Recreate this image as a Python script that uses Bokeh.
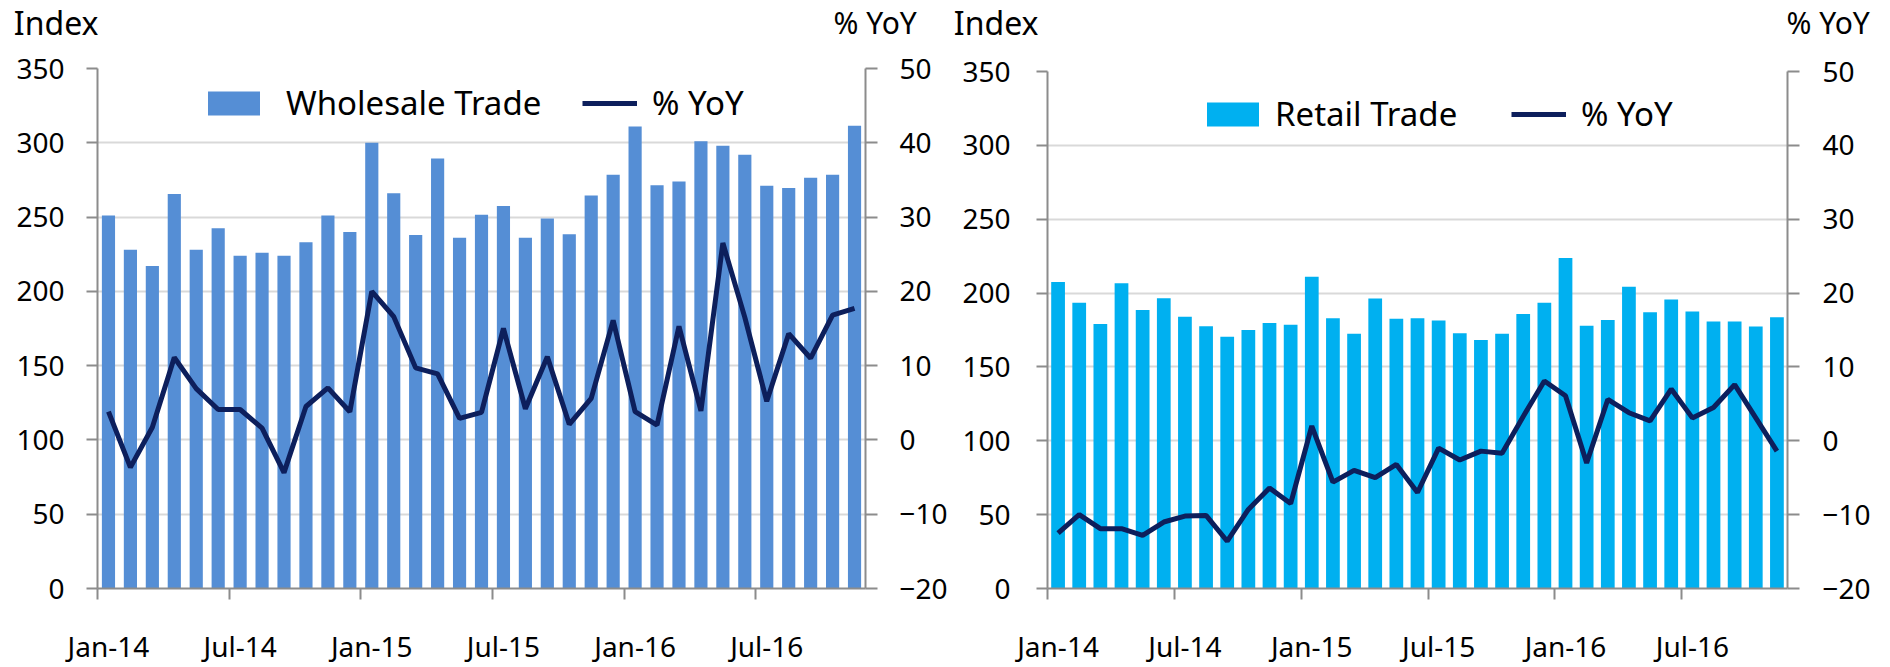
from bokeh.plotting import figure
from bokeh.models import (Range1d, LinearAxis, FixedTicker, Legend, LegendItem,
                          ColumnDataSource)
from bokeh.layouts import row, column
from bokeh.embed import file_html
from bokeh.resources import INLINE

# ---------------- data ----------------
months = ["Jan-14", "Feb-14", "Mar-14", "Apr-14", "May-14", "Jun-14", "Jul-14", "Aug-14",
          "Sep-14", "Oct-14", "Nov-14", "Dec-14", "Jan-15", "Feb-15", "Mar-15", "Apr-15",
          "May-15", "Jun-15", "Jul-15", "Aug-15", "Sep-15", "Oct-15", "Nov-15", "Dec-15",
          "Jan-16", "Feb-16", "Mar-16", "Apr-16", "May-16", "Jun-16", "Jul-16", "Aug-16",
          "Sep-16", "Oct-16", "Nov-16"]
tick_months = ["Jan-14", "Jul-14", "Jan-15", "Jul-15", "Jan-16", "Jul-16"]

wholesale_index = [251, 228, 217, 265.5, 228, 242.5, 224, 226, 224, 233, 251, 240,
                   300, 266, 238, 289.5, 236, 251.5, 257.5, 236, 249, 238.5, 264.5, 278.5,
                   311, 271.5, 274, 301, 298, 292, 271, 269.5, 276.5, 278.5, 311.5]
wholesale_yoy = [3.8, -3.7, 1.7, 11.1, 6.9, 4.1, 4.1, 1.6, -4.4, 4.5, 7.0, 3.8,
                 20.0, 16.6, 9.7, 8.9, 2.9, 3.7, 15.0, 4.2, 11.2, 2.1, 5.6, 16.1,
                 3.8, 2.0, 15.3, 3.9, 26.5, 16.5, 5.2, 14.3, 11.0, 16.8, 17.7]

retail_index = [207.5, 193.4, 179.1, 206.6, 188.6, 196.5, 184.0, 177.6, 170.5, 175.0, 179.8, 178.6,
                211.0, 183.0, 172.5, 196.3, 182.6, 183.0, 181.5, 172.8, 168.3, 172.5, 185.8, 193.4,
                223.7, 177.8, 181.8, 204.2, 187.0, 195.6, 187.5, 180.7, 180.7, 177.4, 183.7]
retail_yoy = [-12.5, -10.0, -11.9, -11.9, -12.8, -11.0, -10.2, -10.1, -13.6, -9.3, -6.4, -8.5,
              2.0, -5.6, -4.0, -5.0, -3.2, -7.0, -1.0, -2.6, -1.4, -1.7, 3.3, 8.1,
              6.1, -3.0, 5.6, 3.8, 2.7, 7.0, 3.1, 4.5, 7.6, 3.1, -1.4]

index_ticks = [0, 50, 100, 150, 200, 250, 300, 350]
yoy_ticks = [-20, -10, 0, 10, 20, 30, 40, 50]

# ---------------- style ----------------
FONT = "Noto Sans"
AXIS_COLOR = "#8c8c8c"
GRID_COLOR = "#d9d9d9"
LINE_COLOR = "#0d1f5c"
HEADER_H = 44


def style_axis(ax, tick_out, standoff, size="28px"):
    ax.major_tick_out = tick_out
    ax.major_tick_in = 0
    ax.minor_tick_out = 0
    ax.minor_tick_in = 0
    ax.major_tick_line_color = AXIS_COLOR
    ax.major_tick_line_width = 2
    ax.axis_line_color = AXIS_COLOR
    ax.axis_line_width = 2
    ax.major_label_standoff = standoff
    ax.major_label_text_font = FONT
    ax.major_label_text_font_size = size
    ax.major_label_text_color = "black"


def make_header(width, borders, index_spec, yoy_spec):
    """Strip above a chart holding the two axis titles ("Index" and "% YoY")."""
    bl, br = borders
    h = figure(width=width, height=HEADER_H, output_backend="svg", toolbar_location=None,
               x_range=Range1d(0, 1), y_range=Range1d(0, HEADER_H),
               x_axis_location=None, y_axis_location=None,
               min_border_left=bl, min_border_right=br, min_border_top=0, min_border_bottom=0)
    h.title.visible = False
    h.outline_line_color = None
    h.xgrid.visible = False
    h.ygrid.visible = False
    for side, (ypos, standoff, size, text) in (("left", index_spec), ("right", yoy_spec)):
        ax = LinearAxis(ticker=FixedTicker(ticks=[ypos]),
                        major_label_overrides={ypos: text})
        style_axis(ax, 0, standoff, size)
        ax.axis_line_color = None
        ax.major_tick_line_color = None
        h.add_layout(ax, side)
    return h


def make_chart(values, yoy, bar_color, bar_name, bar_w, width, height, borders, stand,
               bar_leg, line_leg):
    bl, br, bt, bb = borders
    left_stand, right_stand = stand
    x = list(range(len(months)))
    src = ColumnDataSource(dict(x=x, v=values, yoy=yoy, m=months))

    p = figure(width=width, height=height, output_backend="svg", toolbar_location=None,
               x_range=Range1d(-0.5, len(months) - 0.5), y_range=Range1d(0, 350),
               min_border_left=bl, min_border_right=br, min_border_top=bt,
               min_border_bottom=bb)
    p.title.visible = False
    p.extra_y_ranges = {"yoy": Range1d(-20, 50)}
    p.outline_line_color = None

    bars = p.vbar(x="x", top="v", bottom=0, width=bar_w, source=src,
                  fill_color=bar_color, line_color=None)
    line = p.line(x="x", y="yoy", source=src, y_range_name="yoy",
                  line_color=LINE_COLOR, line_width=5)

    # x axis: labels under bar centres, tick marks at category boundaries
    tpos = [months.index(m) for m in tick_months]
    xa = p.xaxis[0]
    xa.ticker = FixedTicker(ticks=tpos, minor_ticks=[t - 0.5 for t in tpos])
    xa.major_label_overrides = {t: m for t, m in zip(tpos, tick_months)}
    style_axis(xa, 0, 27)
    xa.minor_tick_out = 11
    xa.minor_tick_line_color = AXIS_COLOR
    xa.minor_tick_line_width = 2

    ya = p.yaxis[0]
    ya.ticker = FixedTicker(ticks=index_ticks)
    style_axis(ya, 11, left_stand)

    ra = LinearAxis(y_range_name="yoy", ticker=FixedTicker(ticks=yoy_ticks))
    style_axis(ra, 12, right_stand)
    p.add_layout(ra, "right")

    p.xgrid.visible = False
    p.ygrid.ticker = FixedTicker(ticks=index_ticks)
    p.ygrid.grid_line_color = GRID_COLOR
    p.ygrid.grid_line_width = 2

    common = dict(orientation="horizontal", padding=0, margin=0, spacing=0,
                  border_line_color=None, background_fill_alpha=0,
                  label_text_font=FONT, label_text_font_size="33px",
                  label_text_color="black")
    (bx, by, bstand) = bar_leg
    (lx, ly, lstand) = line_leg
    p.add_layout(Legend(items=[LegendItem(label=bar_name, renderers=[bars])],
                        location=(bx, by), glyph_width=65, glyph_height=30,
                        label_standoff=bstand, **common))
    p.add_layout(Legend(items=[LegendItem(label="% YoY", renderers=[line])],
                        location=(lx, ly), glyph_width=55, glyph_height=30,
                        label_standoff=lstand, **common))
    return p


W1, W2 = 950, 938
L_BORDERS = (97, 77)
R_BORDERS = (93, 101)

left = make_chart(wholesale_index, wholesale_yoy, "#558ed5", "Wholesale Trade", 0.6,
                  W1, 667 - HEADER_H, L_BORDERS + (24, 66), (22, 22),
                  (104, 463, 20), (485, 463, 15))
right = make_chart(retail_index, retail_yoy, "#00b0f0", "Retail Trade", 0.65,
                   W2, 667 - HEADER_H, R_BORDERS + (27, 65), (26, 23),
                   (153, 452, 10), (464, 452, 15))

# header specs: (tick y measured up from header bottom, standoff, font size, text)
left_head = make_header(W1, L_BORDERS, (21, -1, "32px", "Index"), (22, -32, "30px", "% YoY"))
right_head = make_header(W2, R_BORDERS, (21, 9, "32px", "Index"), (19, -1, "30px", "% YoY"))

layout = row(column(left_head, left), column(right_head, right))
open("out.html", "w").write(file_html(layout, INLINE))
